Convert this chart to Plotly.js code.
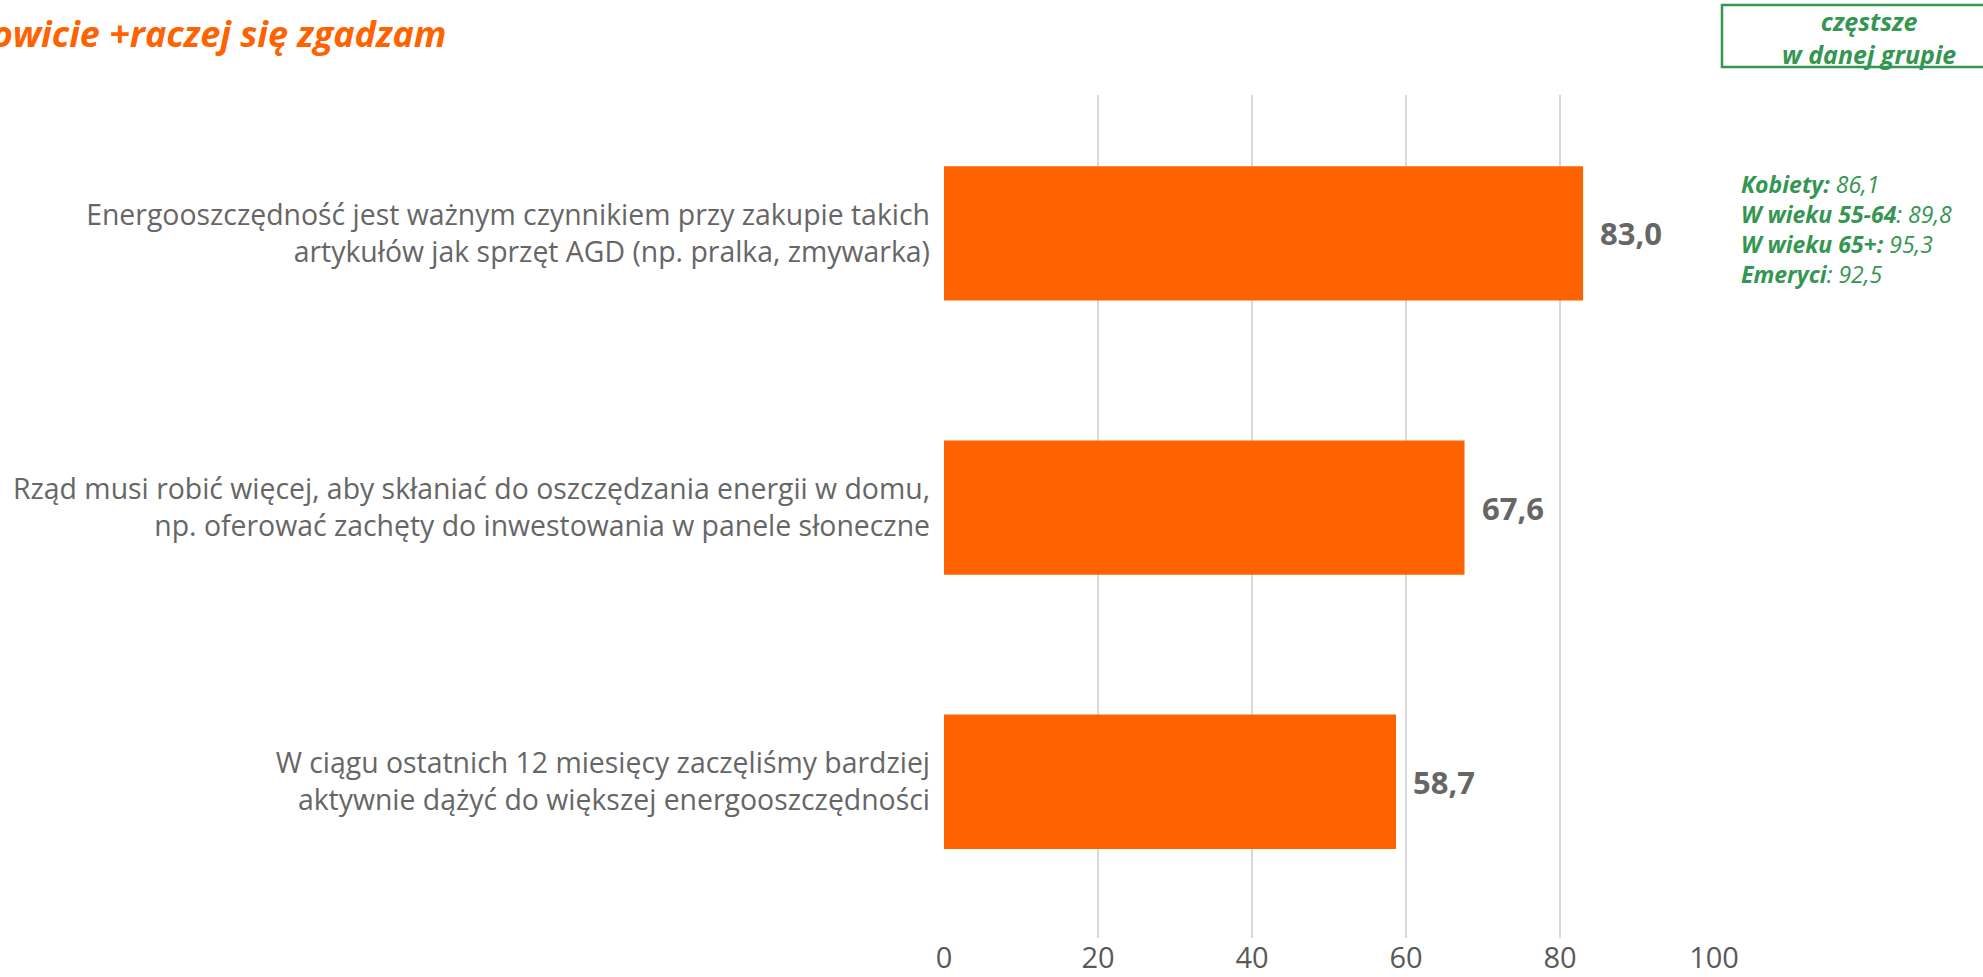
<!DOCTYPE html>
<html>
<head>
<meta charset="utf-8">
<script src="https://cdn.plot.ly/plotly-3.0.1.min.js"></script>
<style>
  html, body { margin: 0; padding: 0; background: #ffffff; overflow: hidden; }
  #chart { width: 1983px; height: 977px; }
</style>
</head>
<body>
<div id="chart"></div>
<script>
// ---- data ----
const categories = [
  "Energooszczędność jest ważnym czynnikiem przy zakupie takich<br>artykułów jak sprzęt AGD (np. pralka, zmywarka)",
  "Rząd musi robić więcej, aby skłaniać do oszczędzania energii w domu,<br>np. oferować zachęty do inwestowania w panele słoneczne",
  "W ciągu ostatnich 12 miesięcy zaczęliśmy bardziej<br>aktywnie dążyć do większej energooszczędności"
];
const values = [83.0, 67.6, 58.7];
const xTickVals = [0, 20, 40, 60, 80, 100];
const xTickText = ["0", "20", "40", "60", "80", "100"];
const groupLabels = ["Kobiety:", "W wieku 55-64", "W wieku 65+:", "Emeryci"];
const groupValues = [" 86,1", ": 89,8", " 95,3", ": 92,5"];
const titleText = "Całkowicie +raczej się zgadzam";
const boxLines = ["częstsze", "w danej grupie"];

// ---- layout geometry (pixels) ----
const W = 1983, H = 977;
const L = 943.5, R = 1714, T = 95, B = 938;
const pw = R - L, ph = B - T;
const px = x => (x - L) / pw;
const py = y => (B - y) / ph;

const ORANGE = "#FF6200";
const GREEN = "#349651";
const GREY = "#666666";
const FONT = "Open Sans, sans-serif";

const fmt = v => v.toFixed(1).replace(".", ",");

const trace = {
  type: "bar",
  orientation: "h",
  x: values,
  y: categories,
  marker: { color: ORANGE, line: { width: 0 } },
  hoverinfo: "none",
  showlegend: false
};

const annotations = [];
values.forEach((v, i) => {
  annotations.push({
    x: v, y: categories[i], xref: "x", yref: "y",
    text: "<b>" + fmt(v) + "</b>",
    showarrow: false, xanchor: "left", yanchor: "middle", xshift: 15,
    font: { family: FONT, size: 31, color: GREY }
  });
});

// title (partially cut off at the left edge, as in the reference)
annotations.push({
  x: px(447), y: py(33), xref: "paper", yref: "paper",
  text: "<b><i>" + titleText + "</i></b>",
  showarrow: false, xanchor: "right", yanchor: "middle",
  font: { family: FONT, size: 36, color: ORANGE }
});

// box text
annotations.push({
  x: px(1869), y: py(37), xref: "paper", yref: "paper",
  text: boxLines.map(t => "<b><i>" + t + "</i></b>").join("<br>"),
  showarrow: false, xanchor: "center", yanchor: "middle", align: "center",
  font: { family: FONT, size: 25, color: GREEN }
});

// group details
annotations.push({
  x: px(1739), y: py(229), xref: "paper", yref: "paper",
  text: groupLabels.map((lab, i) => "<b><i>" + lab + "</i></b><i>" + groupValues[i] + "</i>").join("<br>"),
  showarrow: false, xanchor: "left", yanchor: "middle", align: "left",
  font: { family: FONT, size: 23, color: GREEN }
});

const layout = {
  width: W, height: H,
  margin: { l: L, r: W - R, t: T, b: H - B, pad: 0, autoexpand: false },
  paper_bgcolor: "#ffffff",
  plot_bgcolor: "#ffffff",
  bargap: 0.51,
  font: { family: FONT, color: GREY },
  xaxis: {
    range: [0, 100],
    tickvals: xTickVals, ticktext: xTickText,
    showgrid: true, gridcolor: "#d9d9d9", gridwidth: 1.5,
    zeroline: false, showline: false, ticks: "",
    tickfont: { family: FONT, size: 29, color: "#595959" },
    automargin: false, fixedrange: true
  },
  yaxis: {
    type: "category",
    range: [2.57, -0.505],
    showgrid: false, zeroline: false, showline: false, ticks: "",
    ticklabelstandoff: 13,
    tickfont: { family: FONT, size: 28.4, color: GREY },
    automargin: false, fixedrange: true
  },
  shapes: [{
    type: "rect", xref: "paper", yref: "paper",
    x0: px(1722), x1: px(1995), y0: py(67), y1: py(5),
    line: { color: GREEN, width: 2.5 }, fillcolor: "rgba(0,0,0,0)", layer: "above"
  }],
  annotations: annotations
};

Plotly.newPlot("chart", [trace], layout, { displayModeBar: false, staticPlot: true });
</script>
</body>
</html>
